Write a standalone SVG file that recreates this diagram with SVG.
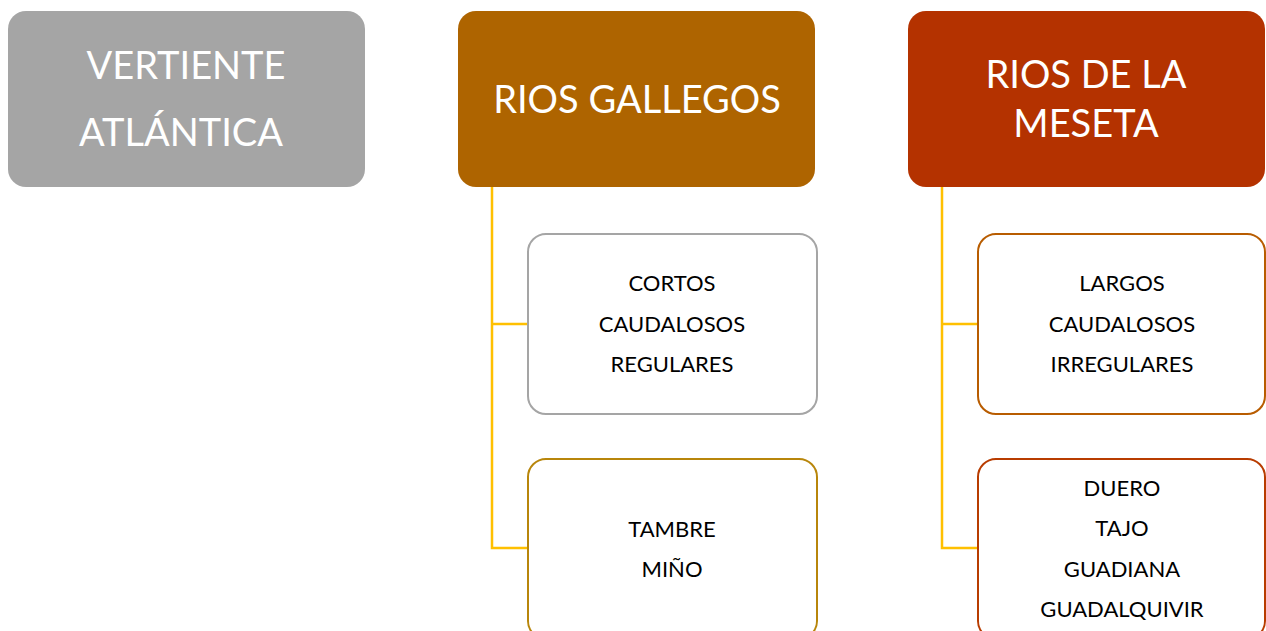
<svg xmlns="http://www.w3.org/2000/svg" width="1266" height="631" viewBox="0 0 1266 631">
<style>
.title{font-family:Lato,"Open Sans",sans-serif;font-size:38px;fill:#fff;text-anchor:middle}
.item{font-family:Lato,"Open Sans",sans-serif;font-size:22px;fill:#000;text-anchor:middle}
.child{fill:#fff;stroke-width:2}
.conn{fill:none;stroke:#FFC000;stroke-width:2.5}
</style>
<rect width="1266" height="631" fill="#fff"/>
<g id="connectors">
<path class="conn" d="M492,187 V548 H528 M492,324 H528"/>
<path class="conn" d="M942,187 V548 H978 M942,324 H978"/>
</g>
<g id="vertiente">
<rect x="8" y="11" width="357" height="176" rx="18" fill="#A5A5A5"/>
<text class="title" x="186" y="79">VERTIENTE</text>
<text class="title" x="181" y="146">ATLÁNTICA</text>
</g>
<g id="gallegos">
<rect x="458" y="11" width="357" height="176" rx="18" fill="#AE6400"/>
<text class="title" x="637" y="113">RIOS GALLEGOS</text>
</g>
<g id="meseta">
<rect x="908" y="11" width="357" height="176" rx="18" fill="#B43200"/>
<text class="title" x="1086" y="88">RIOS DE LA</text>
<text class="title" x="1086" y="137">MESETA</text>
</g>
<g id="gallegos-caracteristicas">
<rect class="child" x="528" y="234" width="289" height="180" rx="18" stroke="#A5A5A5"/>
<text class="item" x="672" y="291">CORTOS</text>
<text class="item" x="672" y="332">CAUDALOSOS</text>
<text class="item" x="672" y="372">REGULARES</text>
</g>
<g id="gallegos-rios">
<rect class="child" x="528" y="459" width="289" height="180" rx="18" stroke="#B8860B"/>
<text class="item" x="672" y="537">TAMBRE</text>
<text class="item" x="672" y="577">MIÑO</text>
</g>
<g id="meseta-caracteristicas">
<rect class="child" x="978" y="234" width="287" height="180" rx="18" stroke="#B85C00"/>
<text class="item" x="1122" y="291">LARGOS</text>
<text class="item" x="1122" y="332">CAUDALOSOS</text>
<text class="item" x="1122" y="372">IRREGULARES</text>
</g>
<g id="meseta-rios">
<rect class="child" x="978" y="459" width="287" height="180" rx="18" stroke="#B83C00"/>
<text class="item" x="1122" y="496">DUERO</text>
<text class="item" x="1122" y="536">TAJO</text>
<text class="item" x="1122" y="577">GUADIANA</text>
<text class="item" x="1122" y="617">GUADALQUIVIR</text>
</g>
</svg>
